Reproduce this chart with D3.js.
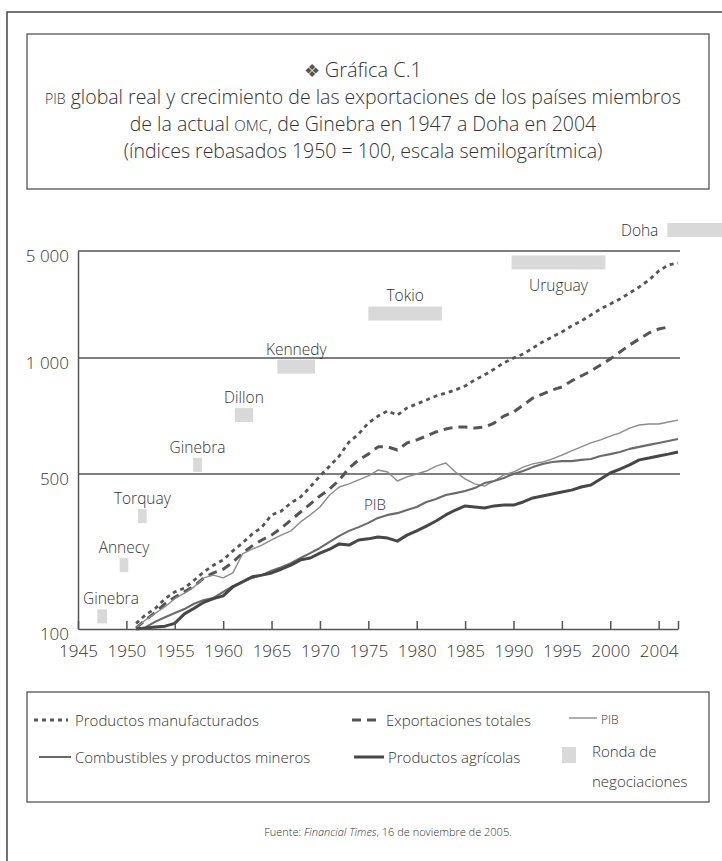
<!DOCTYPE html>
<html>
<head>
<meta charset="utf-8">
<script src="https://cdn.jsdelivr.net/npm/d3@7"></script>
<style>
  body { margin: 0; background: #fff; }
  svg { display: block; font-family: 'Open Sans', 'Noto Sans', sans-serif; font-weight: 300; }
  text { fill: #333; }
</style>
</head>
<body>
<div id="chart"></div>
<script>
// values (index 1950 = 100)
const years = [1951, 1952, 1953, 1954, 1955, 1956, 1957, 1958, 1959, 1960,
  1961, 1962, 1963, 1964, 1965, 1966, 1967, 1968, 1969, 1970,
  1971, 1972, 1973, 1974, 1975, 1976, 1977, 1978, 1979, 1980,
  1981, 1982, 1983, 1984, 1985, 1986, 1987, 1988, 1989, 1990,
  1991, 1992, 1993, 1994, 1995, 1996, 1997, 1998, 1999, 2000,
  2001, 2002, 2003, 2004, 2005, 2006, 2007];

const manufacturados = [106, 116, 124, 137, 147, 153, 166, 181, 194, 205,
  225, 244, 268, 288, 327, 340, 370, 394, 437, 490,
  524, 557, 605, 635, 678, 707, 729, 711, 742, 760,
  778, 797, 811, 826, 846, 877, 903, 936, 971, 1000,
  1062, 1162, 1272, 1372, 1479, 1618, 1745, 1910, 2090, 2253,
  2429, 2658, 2910, 3233, 3701, 4051, 4175];

const exportaciones = [101, 110, 119, 130, 139, 147, 156, 170, 179, 186,
  200, 220, 237, 252, 265, 285, 310, 337, 366, 398,
  428, 470, 518, 544, 563, 588, 588, 577, 602, 613,
  627, 643, 654, 662, 662, 658, 662, 678, 707, 724,
  755, 787, 806, 826, 841, 872, 898, 925, 959, 994,
  1094, 1216, 1331, 1457, 1547, 1594, null];

const pib = [101, 110, 118, 126, 137, 145, 155, 170, 175, 170,
  179, 218, 229, 239, 252, 265, 277, 304, 327, 355,
  402, 437, 451, 470, 490, 512, 506, 465, 485, 500,
  509, 524, 534, 506, 475, 451, 441, 465, 495, 506,
  521, 531, 537, 547, 560, 574, 588, 602, 613, 627,
  639, 658, 670, 674, 674, 682, 690];

const combustibles = [null, 102, 108, 113, 118, 123, 130, 135, 138, 147,
  156, 163, 170, 175, 183, 190, 198, 209, 220, 232,
  247, 263, 277, 288, 301, 317, 327, 333, 344, 355,
  374, 386, 402, 410, 419, 432, 455, 465, 480, 500,
  509, 521, 531, 537, 540, 540, 544, 547, 557, 563,
  570, 581, 588, 595, 602, 609, 616];

const agricolas = [100, 101, 102, 103, 106, 117, 124, 132, 137, 141,
  155, 163, 172, 175, 179, 186, 194, 205, 209, 220,
  229, 242, 239, 252, 255, 260, 257, 249, 265, 277,
  291, 307, 327, 344, 359, 355, 351, 359, 362, 362,
  374, 390, 398, 406, 415, 423, 437, 446, 475, 503,
  515, 528, 544, 550, 557, 563, 570];

// rounds of negotiation (grey markers), as drawn
const roundNames = ['Ginebra', 'Annecy', 'Torquay', 'Ginebra', 'Dillon', 'Kennedy', 'Tokio', 'Uruguay', 'Doha'];
const roundStart = [1947, 1949.3, 1951.2, 1956.9, 1961.2, 1965.6, 1975.0, 1989.8, 2005.9];
const roundEnd = [1948, 1950.2, 1952.1, 1957.8, 1963.1, 1969.5, 1982.6, 1999.5, 2013];
const roundLevel = [114, 194, 323, 528, 711, 950, 1953, 4208, 6857];

// axes
const yTicks = [100, 500, 1000, 5000];
const yTickLabels = ['100', '500', '1 000', '5 000'];
const xTicks = [1945, 1950, 1955, 1960, 1965, 1970, 1975, 1980, 1985, 1990, 1995, 2000, 2005, 2007];
const xTickLabels = ['1945', '1950', '1955', '1960', '1965', '1970', '1975', '1980', '1985', '1990', '1995', '2000', '2004', ''];

const w = 722;
const h = 861;
const ink = '#555';

const svg = d3.select('#chart')
  .append('svg')
  .attr('width', w)
  .attr('height', h);

svg.append('rect')
  .attr('width', w)
  .attr('height', h)
  .attr('fill', 'white');

//outer frame (only left and top are visible in the page)
svg.append('path')
  .attr('d', `M7,${h} V12 H${w}`)
  .attr('fill', 'none')
  .attr('stroke', '#444')
  .attr('stroke-width', 1.5);

// title box
svg.append('rect')
  .attr('x', 27)
  .attr('y', 34)
  .attr('width', 682)
  .attr('height', 155)
  .attr('fill', 'none')
  .attr('stroke', ink)
  .attr('stroke-width', 1.3);

const title = svg.append('g')
  .attr('text-anchor', 'middle');

const t0 = title.append('text')
  .attr('x', 363)
  .attr('y', 77)
  .style('font-size', '20px');
t0.append('tspan').text('\u2756 ').style('font-size', '18px').style('fill', '#555');
t0.append('tspan').text('Gráfica C.1');

const t1 = title.append('text')
  .attr('x', 363)
  .attr('y', 104)
  .style('font-size', '19.5px');
t1.append('tspan').text('PIB').style('font-size', '14px');
t1.append('tspan').text(' global real y crecimiento de las exportaciones de los países miembros');

const t2 = title.append('text')
  .attr('x', 363)
  .attr('y', 131)
  .style('font-size', '19.5px');
t2.append('tspan').text('de la actual ');
t2.append('tspan').text('OMC').style('font-size', '15px');
t2.append('tspan').text(', de Ginebra en 1947 a Doha en 2004');

title.append('text')
  .attr('x', 363)
  .attr('y', 158)
  .style('font-size', '19.5px')
  .text('(índices rebasados 1950 = 100, escala semilogarítmica)');

// scales - the printed axis is not a clean log scale, so the log scale is
// split into pieces that go through the printed gridlines
const x = d3.scaleLinear()
  .domain([1945, 2007])
  .range([78, 678]);

const y = d3.scaleLog()
  .domain([100, 500, 1000, 5000])
  .range([629, 474, 358, 251]);

const chart = svg.append('g');

// gridlines
chart.selectAll('.grid')
  .data(yTicks.slice(1))
  .enter()
  .append('line')
  .attr('class', 'grid')
  .attr('x1', x(1945))
  .attr('x2', x(2007) + 2)
  .attr('y1', d => y(d))
  .attr('y2', d => y(d))
  .attr('stroke', ink)
  .attr('stroke-width', 1.5);

// negotiation rounds
const rounds = roundNames.map((name, i) => ({
  name: name,
  start: roundStart[i],
  end: roundEnd[i],
  level: roundLevel[i]
}));

const markH = 14;

chart.selectAll('.round')
  .data(rounds)
  .enter()
  .append('rect')
  .attr('class', 'round')
  .attr('x', d => x(d.start))
  .attr('y', d => y(d.level) - markH / 2)
  .attr('width', d => x(d.end) - x(d.start))
  .attr('height', markH)
  .attr('fill', '#d9d9d9');

chart.selectAll('.round-label')
  .data(rounds)
  .enter()
  .append('text')
  .attr('class', 'round-label')
  .style('font-size', '15.5px')
  .text(d => d.name)
  .each(function(d) {
    const el = d3.select(this);
    const cx = (x(d.start) + x(d.end)) / 2;
    const top = y(d.level) - markH / 2;
    if (d.name === 'Doha') { //label sits left of the marker
      el.attr('x', x(d.start) - 9).attr('y', top + markH - 1).attr('text-anchor', 'end');
    } else if (d.name === 'Uruguay') { //label under the marker
      el.attr('x', cx).attr('y', top + markH + 22).attr('text-anchor', 'middle');
    } else {
      const half = this.getComputedTextLength() / 2;
      el.attr('x', Math.max(cx, x(1945) + 5 + half)).attr('y', top - 5).attr('text-anchor', 'middle');
    }
  });

// series
const series = [
  {name: 'Productos manufacturados', values: manufacturados, color: '#555', width: 2.8, dash: '4,4'},
  {name: 'Exportaciones totales', values: exportaciones, color: '#555', width: 3, dash: '9,6'},
  {name: 'PIB', values: pib, color: '#8c8c8c', width: 1.4, dash: null},
  {name: 'Combustibles y productos mineros', values: combustibles, color: '#6b6b6b', width: 2.1, dash: null},
  {name: 'Productos agrícolas', values: agricolas, color: '#474747', width: 3, dash: null}
];

const line = d3.line()
  .defined(d => d[1] != null)
  .x(d => x(d[0]))
  .y(d => y(d[1]));

chart.selectAll('.series')
  .data(series)
  .enter()
  .append('path')
  .attr('class', 'series')
  .attr('d', d => line(years.map((yr, i) => [yr, d.values[i]])))
  .attr('fill', 'none')
  .attr('stroke', d => d.color)
  .attr('stroke-width', d => d.width)
  .attr('stroke-dasharray', d => d.dash)
  .attr('stroke-linejoin', 'round');

chart.append('text')
  .attr('x', 375)
  .attr('y', 510)
  .attr('text-anchor', 'middle')
  .style('font-size', '15px')
  .text('PIB');

// axes
const xAxis = d3.axisBottom(x)
  .tickValues(xTicks)
  .tickFormat((d, i) => xTickLabels[i])
  .tickSizeInner(-8)
  .tickSizeOuter(0)
  .tickPadding(16);

const yAxis = d3.axisLeft(y)
  .tickValues(yTicks)
  .tickFormat((d, i) => yTickLabels[i])
  .tickSize(0)
  .tickPadding(9);

const gx = chart.append('g')
  .attr('transform', `translate(0, ${y(100)})`)
  .call(xAxis);

const gy = chart.append('g')
  .attr('transform', `translate(${x(1945)}, 0)`)
  .call(yAxis);

[gx, gy].forEach(g => {
  g.select('.domain').attr('stroke', ink).attr('stroke-width', 1.5);
  g.selectAll('.tick line').attr('stroke', ink).attr('stroke-width', 1.5);
  g.selectAll('.tick text')
    .attr('fill', '#333')
    .style('font-size', '17px')
    .style('font-family', "'Open Sans', 'Noto Sans', sans-serif");
});
gy.selectAll('.tick text').attr('dy', '0.6em');

// legend
svg.append('rect')
  .attr('x', 27)
  .attr('y', 692)
  .attr('width', 682)
  .attr('height', 110)
  .attr('fill', 'none')
  .attr('stroke', ink)
  .attr('stroke-width', 1.3);

const legendItems = [
  {s: series[0], x0: 34, x1: 68, tx: 75, ly: 720, ty: 726},
  {s: series[1], x0: 352, x1: 378, tx: 386, ly: 720, ty: 726},
  {s: series[2], x0: 569, x1: 597, tx: 601, ly: 718, ty: 724},
  {s: series[3], x0: 39, x1: 71, tx: 75, ly: 757, ty: 763},
  {s: series[4], x0: 354, x1: 384, tx: 388, ly: 757, ty: 763}
];

const legend = svg.append('g');

legend.selectAll('line')
  .data(legendItems)
  .enter()
  .append('line')
  .attr('x1', d => d.x0)
  .attr('x2', d => d.x1)
  .attr('y1', d => d.ly)
  .attr('y2', d => d.ly)
  .attr('stroke', d => d.s.color)
  .attr('stroke-width', d => d.s.width)
  .attr('stroke-dasharray', d => d.s.dash);

legend.selectAll('text')
  .data(legendItems)
  .enter()
  .append('text')
  .attr('x', d => d.tx)
  .attr('y', d => d.ty)
  .style('font-size', d => d.s.name === 'PIB' ? '12px' : '15px')
  .text(d => d.s.name);

legend.append('rect')
  .attr('x', 562)
  .attr('y', 747)
  .attr('width', 14)
  .attr('height', 16)
  .attr('fill', '#d9d9d9');

legend.append('text')
  .attr('x', 592)
  .attr('y', 757)
  .style('font-size', '15px')
  .text('Ronda de');

legend.append('text')
  .attr('x', 592)
  .attr('y', 787)
  .style('font-size', '15px')
  .text('negociaciones');

// source
const src = svg.append('text')
  .attr('x', 388)
  .attr('y', 836)
  .attr('text-anchor', 'middle')
  .style('font-size', '11px');
src.append('tspan').text('Fuente: ');
src.append('tspan').text('Financial Times').style('font-style', 'italic');
src.append('tspan').text(', 16 de noviembre de 2005.');
</script>
</body>
</html>
